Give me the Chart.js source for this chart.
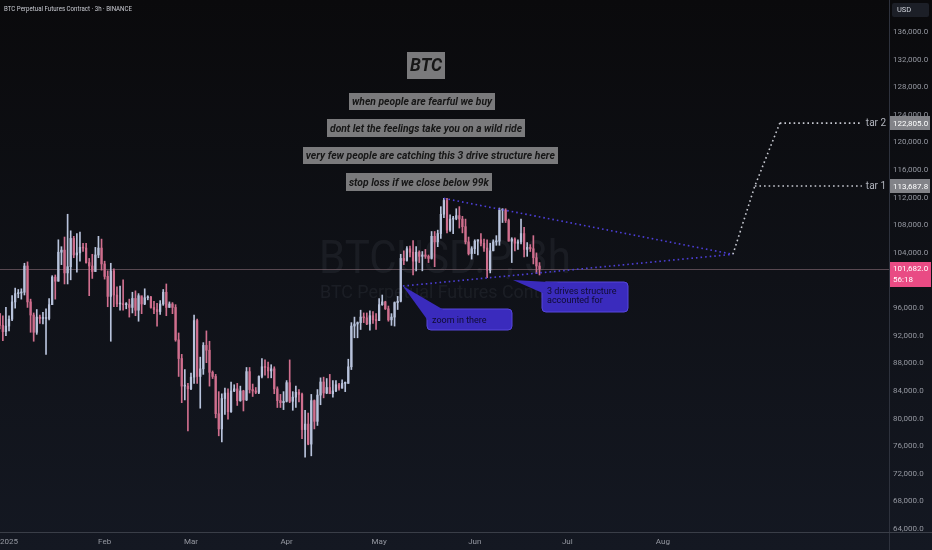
<!DOCTYPE html>
<html>
<head>
<meta charset="utf-8">
<script src="https://cdn.jsdelivr.net/npm/chart.js@4.4.1/dist/chart.umd.min.js"></script>
<style>
  html, body { margin: 0; padding: 0; background: #0b0b0e; overflow: hidden; }
  canvas { display: block; }
</style>
</head>
<body>
<canvas id="chart" width="932" height="550"></canvas>
<script>
// daily candles, first one is Dec 29 2024 (days counted from Jan 1 2025), prices in thousands USD
var firstDay = -3;
var firstOpen = 95.2;
var highs = [
  95.2, 94.9, 96.1,
  94.9, 97.8, 98.9, 98.7, 98.8, 102.5, 102.7, 97.3, 95.3, 95.8, 95.0, 95.4, 95.9, 97.4, 100.7, 100.8, 105.9, 104.9, 106.3, 109.6, 107.2, 106.4, 106.8, 107.0, 105.4, 105.4, 103.2, 103.8, 104.8, 106.4, 106.0,
  102.8, 101.4, 102.5, 101.7, 99.1, 99.2, 100.1, 96.8, 97.3, 98.3, 98.5, 98.1, 97.6, 98.8, 97.8, 97.7, 97.0, 96.7, 97.1, 98.7, 99.5, 96.9, 96.8, 96.5, 92.4, 89.3, 87.1, 85.1,
  86.6, 95.0, 94.4, 88.9, 91.0, 92.7, 91.2, 86.9, 86.4, 83.9, 83.6, 84.4, 84.3, 85.3, 84.9, 85.1, 84.7, 84.1, 87.4, 87.4, 85.0, 84.5, 86.2, 88.7, 88.5, 88.2, 87.8, 87.5, 84.6, 83.5, 83.9,
  85.5, 88.5, 83.9, 84.7, 84.2, 83.7, 81.2, 80.8, 83.5, 82.7, 84.2, 85.9, 86.0, 85.8, 86.4, 85.5, 85.5, 85.1, 85.6, 85.3, 88.6, 93.9, 94.7, 94.0, 95.7, 95.3, 95.3, 95.6, 95.5, 95.2,
  97.4, 97.9, 97.0, 96.3, 95.2, 96.9, 97.7, 103.8, 104.3, 104.9, 105.0, 105.8, 104.9, 104.3, 104.2, 104.5, 103.7, 107.1, 107.1, 107.3, 110.7, 111.9, 111.9, 109.5, 109.3, 110.4, 110.7, 109.3, 108.9, 106.3, 104.9,
  105.9, 105.9, 106.8, 106.0, 105.9, 105.4, 105.9, 106.5, 110.5, 110.4, 110.4, 108.9, 106.2, 106.2, 105.9, 108.9, 107.7, 105.5, 105.2, 106.5, 104.0, 102.6
];
var lows = [
  93.0, 91.3, 92.0,
  92.7, 94.2, 96.0, 97.5, 97.3, 97.9, 96.1, 92.5, 91.2, 92.2, 93.8, 93.7, 89.3, 94.3, 96.5, 97.3, 99.9, 102.3, 99.5, 99.5, 100.1, 103.3, 101.2, 102.8, 104.2, 102.5, 97.8, 100.3, 101.3, 103.3, 101.5,
  100.2, 96.2, 91.2, 96.2, 96.2, 95.7, 95.7, 95.9, 94.7, 95.3, 94.9, 94.1, 95.2, 96.5, 97.2, 96.0, 95.2, 93.4, 95.1, 96.4, 94.9, 96.1, 95.2, 91.2, 86.1, 82.3, 82.7, 78.2,
  84.2, 85.1, 85.1, 81.5, 86.4, 88.1, 84.7, 85.8, 80.1, 77.5, 76.6, 80.6, 79.9, 80.9, 83.9, 81.9, 82.5, 81.1, 82.6, 83.7, 83.2, 83.6, 83.6, 85.9, 86.3, 85.9, 85.9, 83.6, 81.6, 81.6, 81.3,
  82.4, 82.3, 81.2, 81.6, 82.4, 77.1, 74.4, 76.2, 74.6, 78.5, 79.0, 82.0, 83.0, 83.6, 83.6, 83.1, 83.9, 84.1, 84.4, 83.9, 85.1, 87.1, 91.7, 91.7, 92.9, 93.9, 93.6, 92.8, 93.8, 92.9,
  94.2, 96.4, 95.8, 94.1, 93.5, 93.4, 95.8, 96.9, 102.3, 102.8, 103.4, 100.8, 101.4, 102.6, 101.4, 103.2, 102.6, 103.1, 102.0, 104.9, 106.1, 109.1, 106.9, 107.1, 106.8, 108.8, 107.6, 106.9, 105.3, 103.7, 103.1,
  103.9, 103.7, 105.0, 104.2, 100.4, 101.1, 104.3, 105.1, 105.1, 108.4, 108.4, 105.7, 102.6, 104.3, 104.5, 105.3, 103.4, 103.5, 104.2, 102.4, 101.0, 100.8
];
var closes = [
  93.5, 92.6, 93.4,
  94.4, 96.9, 98.1, 98.2, 98.3, 102.1, 96.9, 95.0, 92.5, 94.7, 94.5, 94.5, 94.5, 96.5, 100.5, 99.9, 104.1, 104.4, 101.1, 102.0, 106.1, 103.7, 104.0, 104.8, 104.7, 102.6, 102.1, 101.3, 103.7, 104.7, 102.4,
  100.6, 97.7, 101.4, 97.9, 96.6, 96.6, 96.5, 96.5, 96.1, 97.4, 95.7, 97.8, 96.6, 97.5, 97.6, 96.1, 95.8, 95.5, 96.6, 98.3, 96.1, 96.6, 96.1, 91.4, 88.7, 84.7, 84.7, 84.3,
  86.0, 94.2, 86.1, 87.2, 90.6, 89.9, 86.7, 86.1, 80.7, 78.5, 82.9, 83.7, 81.0, 84.0, 84.3, 82.6, 84.0, 82.7, 86.8, 84.2, 84.0, 83.8, 86.1, 87.5, 87.4, 86.9, 87.2, 84.3, 82.6, 82.3, 82.5,
  85.2, 82.5, 83.1, 83.8, 83.5, 78.4, 79.2, 76.3, 82.6, 79.6, 83.4, 85.3, 83.7, 84.5, 83.6, 84.0, 84.9, 84.4, 85.1, 85.1, 87.5, 93.4, 93.7, 93.9, 94.7, 94.6, 93.7, 94.9, 94.3, 94.2,
  96.5, 96.9, 95.9, 94.3, 94.7, 96.8, 97.0, 103.2, 102.9, 104.6, 104.1, 102.8, 104.1, 103.5, 103.7, 103.5, 103.2, 106.4, 105.6, 106.8, 109.6, 111.6, 107.3, 108.9, 109.0, 109.4, 108.9, 107.8, 105.6, 103.9, 104.6,
  105.7, 105.9, 105.4, 104.7, 101.5, 104.3, 105.6, 105.7, 110.2, 110.2, 108.7, 105.7, 106.0, 105.4, 105.6, 106.8, 104.5, 104.8, 104.6, 103.3, 102.1, 101.682
];

var monthTicks = [0, 31, 59, 90, 120, 151, 181, 212];
var monthLabels = ['2025', 'Feb', 'Mar', 'Apr', 'May', 'Jun', 'Jul', 'Aug'];
var priceTicks = [64000, 68000, 72000, 76000, 80000, 84000, 88000, 92000, 96000, 100000, 104000, 108000,
                  112000, 116000, 120000, 124000, 128000, 132000, 136000];
var lastPrice = 101682.0;
var targetPrices = [113687.8, 122805.0];
var targetNames = ['tar 1', 'tar 2'];

// drawings (day, price)
var wedgeUpper = [[141, 111900], [234.7, 103800]];
var wedgeLower = [[127.7, 99200], [234.7, 103800]];
var projection = [[234.7, 103800], [241.8, 113687.8], [249.9, 122805]];
var targetEnd = 276.5;

var up = '#b8c3dc', down = '#d06f8e';
var wicks = [], bodies = [], colors = [];
for (var i = 0; i < closes.length; i++) {
  var o = i === 0 ? firstOpen : closes[i - 1];
  wicks.push({ x: firstDay + i, y: [lows[i] * 1000, highs[i] * 1000] });
  bodies.push({ x: firstDay + i, y: [o * 1000, closes[i] * 1000] });
  colors.push(closes[i] >= o ? up : down);
}

function fmt(v) {
  return Number(v).toLocaleString('en-US', { minimumFractionDigits: 1, maximumFractionDigits: 1 });
}

function roundRect(ctx, x, y, w, h, r) {
  ctx.beginPath();
  ctx.moveTo(x + r, y);
  ctx.lineTo(x + w - r, y); ctx.quadraticCurveTo(x + w, y, x + w, y + r);
  ctx.lineTo(x + w, y + h - r); ctx.quadraticCurveTo(x + w, y + h, x + w - r, y + h);
  ctx.lineTo(x + r, y + h); ctx.quadraticCurveTo(x, y + h, x, y + h - r);
  ctx.lineTo(x, y + r); ctx.quadraticCurveTo(x, y, x + r, y);
  ctx.closePath();
}

function pt(chart, p) {
  return [chart.scales.x.getPixelForValue(p[0]), chart.scales.y.getPixelForValue(p[1])];
}

function dotted(ctx, chart, pts, color) {
  ctx.save();
  ctx.strokeStyle = color;
  ctx.lineWidth = 1.6;
  ctx.setLineDash([1.6, 3]);
  ctx.beginPath();
  pts.forEach(function (p, k) {
    var q = pt(chart, p);
    if (k === 0) ctx.moveTo(q[0], q[1]); else ctx.lineTo(q[0], q[1]);
  });
  ctx.stroke();
  ctx.restore();
}

var notes = [
  { at: [135.2, 131140], w: 38, h: 27, text: 'BTC', size: 18 },
  { at: [133.9, 125930], w: 146, h: 17, text: 'when people are fearful we buy', size: 11 },
  { at: [135.2, 122090], w: 198, h: 18, text: 'dont let the feelings take you on a wild ride', size: 11 },
  { at: [136.6, 118100], w: 255, h: 17, text: 'very few people are catching this 3 drive structure here', size: 11 },
  { at: [132.9, 114260], w: 146, h: 18, text: 'stop loss if we close below 99k', size: 11 }
];

var callouts = [
  { tip: [127.7, 99200], box: [135.5, 95860], w: 85, h: 21, lines: ['zoom in there'] },
  { tip: [163.4, 100060], box: [172.8, 99770], w: 86, h: 30, lines: ['3 drives structure', 'accounted for'] }
];

var tvPlugin = {
  id: 'tv',
  beforeDraw: function (chart) {
    var ctx = chart.ctx;
    var g = ctx.createLinearGradient(0, 0, 0, chart.height);
    g.addColorStop(0, '#0a0a0c');
    g.addColorStop(1, '#141822');
    ctx.save();
    ctx.fillStyle = g;
    ctx.fillRect(0, 0, chart.width, chart.height);
    ctx.restore();
  },
  beforeDatasetsDraw: function (chart) {
    var ctx = chart.ctx, a = chart.chartArea;
    ctx.save();
    // watermark
    ctx.fillStyle = 'rgba(190,195,215,0.07)';
    ctx.textAlign = 'center';
    ctx.textBaseline = 'middle';
    ctx.font = '47px Roboto, "Liberation Sans", sans-serif';
    ctx.fillText('BTCUSD.P, 3h', 445, 261, 252);
    ctx.font = '18px Roboto, "Liberation Sans", sans-serif';
    ctx.fillText('BTC Perpetual Futures Contract', 445, 293, 250);
    // last price line
    var y = Math.round(chart.scales.y.getPixelForValue(lastPrice)) + 0.5;
    ctx.strokeStyle = 'rgba(150,118,130,0.55)';
    ctx.lineWidth = 1;
    ctx.beginPath(); ctx.moveTo(a.left, y); ctx.lineTo(a.right, y); ctx.stroke();
    ctx.restore();
  },
  afterDatasetsDraw: function (chart) {
    var ctx = chart.ctx;
    dotted(ctx, chart, wedgeUpper, '#4d3fd8');
    dotted(ctx, chart, wedgeLower, '#4d3fd8');
    dotted(ctx, chart, projection, '#c8cad2');
    targetPrices.forEach(function (p, k) {
      dotted(ctx, chart, [[projection[k + 1][0], p], [targetEnd, p]], '#c8cad2');
      var q = pt(chart, [targetEnd, p]);
      ctx.save();
      ctx.fillStyle = '#b2b5be';
      ctx.font = '10px Roboto, sans-serif';
      ctx.textBaseline = 'middle';
      ctx.fillText(targetNames[k], q[0] + 4, q[1] + 0.5);
      ctx.restore();
    });

    // text notes
    notes.forEach(function (n) {
      var c = pt(chart, n.at);
      var x = Math.round(c[0] - n.w / 2), y = Math.round(c[1] - n.h / 2);
      ctx.save();
      ctx.fillStyle = '#7a7a7c';
      ctx.fillRect(x, y, n.w, n.h);
      ctx.fillStyle = '#161616';
      ctx.font = 'italic bold ' + n.size + 'px Roboto, "Liberation Sans", sans-serif';
      ctx.textAlign = 'center';
      ctx.textBaseline = 'middle';
      ctx.fillText(n.text, c[0], c[1] + 1, n.w - 6);
      ctx.restore();
    });

    // callouts
    callouts.forEach(function (cl) {
      var t = pt(chart, cl.tip), b = pt(chart, cl.box);
      var bx = Math.round(b[0]), by = Math.round(b[1]);
      ctx.save();
      ctx.fillStyle = '#3a2bbd';
      ctx.strokeStyle = '#5646dc';
      ctx.lineWidth = 1;
      roundRect(ctx, bx, by, cl.w, cl.h, 4);
      ctx.fill(); ctx.stroke();
      ctx.beginPath();
      ctx.moveTo(t[0], t[1]);
      ctx.lineTo(bx + 0.5, by + Math.min(11, cl.h - 4));
      ctx.lineTo(bx + 16, by + 0.5);
      ctx.closePath();
      ctx.fill();
      ctx.fillStyle = '#0f0c30';
      ctx.font = '9px Roboto, sans-serif';
      ctx.textBaseline = 'middle';
      cl.lines.forEach(function (s, k) {
        ctx.fillText(s, bx + 5, by + (cl.lines.length === 1 ? cl.h / 2 + 1 : 10 + k * 9));
      });
      ctx.restore();
    });
  },
  afterDraw: function (chart) {
    var ctx = chart.ctx, a = chart.chartArea;
    ctx.save();
    // axis separators
    ctx.strokeStyle = '#2e323d';
    ctx.lineWidth = 1;
    ctx.beginPath();
    ctx.moveTo(a.right + 0.5, 0); ctx.lineTo(a.right + 0.5, chart.height);
    ctx.stroke();
    ctx.strokeStyle = '#3a3e48';
    ctx.beginPath();
    ctx.moveTo(0, a.bottom + 0.5); ctx.lineTo(chart.width, a.bottom + 0.5);
    ctx.stroke();

    // price labels on the axis
    ctx.textBaseline = 'middle';
    ctx.font = '8px Roboto, sans-serif';
    targetPrices.forEach(function (p) {
      var y = chart.scales.y.getPixelForValue(p);
      ctx.fillStyle = '#828388';
      ctx.fillRect(a.right + 1, Math.round(y - 7), 40, 14);
      ctx.fillStyle = '#ffffff';
      ctx.fillText(fmt(p), a.right + 4, y + 0.5);
    });
    var yl = chart.scales.y.getPixelForValue(lastPrice);
    ctx.fillStyle = '#e94b84';
    ctx.fillRect(a.right + 1, Math.round(yl - 7), 41, 25);
    ctx.fillStyle = '#ffffff';
    ctx.fillText(fmt(lastPrice), a.right + 4, yl + 0.5);
    ctx.fillText('56:18', a.right + 4, yl + 11);

    // header + currency
    ctx.fillStyle = '#c9cbd2';
    ctx.font = '7.5px Roboto, sans-serif';
    ctx.fillText('BTC Perpetual Futures Contract \u00b7 3h \u00b7 BINANCE', 4, 9, 128);
    ctx.fillStyle = '#1c1f27';
    roundRect(ctx, a.right + 3, 3, 37, 14, 2);
    ctx.fill();
    ctx.fillStyle = '#d1d4dc';
    ctx.fillText('USD', a.right + 8, 10.5);
    ctx.restore();
  }
};

function noPad(s) { s.paddingTop = 0; s.paddingBottom = 0; s.paddingLeft = 0; s.paddingRight = 0; }

new Chart(document.getElementById('chart'), {
  type: 'bar',
  data: {
    datasets: [
      { data: bodies, backgroundColor: colors, barThickness: 1.6, grouped: false, minBarLength: 1 },
      { data: wicks, backgroundColor: colors, barThickness: 1, grouped: false }
    ]
  },
  options: {
    responsive: false,
    animation: false,
    devicePixelRatio: 1,
    layout: { padding: 0 },
    plugins: { legend: { display: false }, tooltip: { enabled: false } },
    scales: {
      x: {
        type: 'linear',
        offset: false,
        min: -2.92,
        max: 285.3,
        grid: { display: false, drawTicks: false },
        border: { display: false },
        afterBuildTicks: function (s) { s.ticks = monthTicks.map(function (v) { return { value: v }; }); },
        afterFit: function (s) { s.height = 18; noPad(s); },
        ticks: {
          autoSkip: false,
          maxRotation: 0,
          padding: 5,
          color: '#9598a1',
          font: { family: 'Roboto', size: 8 },
          callback: function (v) { return monthLabels[monthTicks.indexOf(v)]; }
        }
      },
      y: {
        position: 'right',
        min: 63565,
        max: 140640,
        grid: { display: false, drawTicks: false },
        border: { display: false },
        afterBuildTicks: function (s) { s.ticks = priceTicks.map(function (v) { return { value: v }; }); },
        afterFit: function (s) { s.width = 43; noPad(s); },
        ticks: {
          padding: 4,
          color: '#9598a1',
          font: { family: 'Roboto', size: 8 },
          callback: function (v) { return fmt(v); }
        }
      }
    }
  },
  plugins: [tvPlugin]
});
</script>
</body>
</html>
